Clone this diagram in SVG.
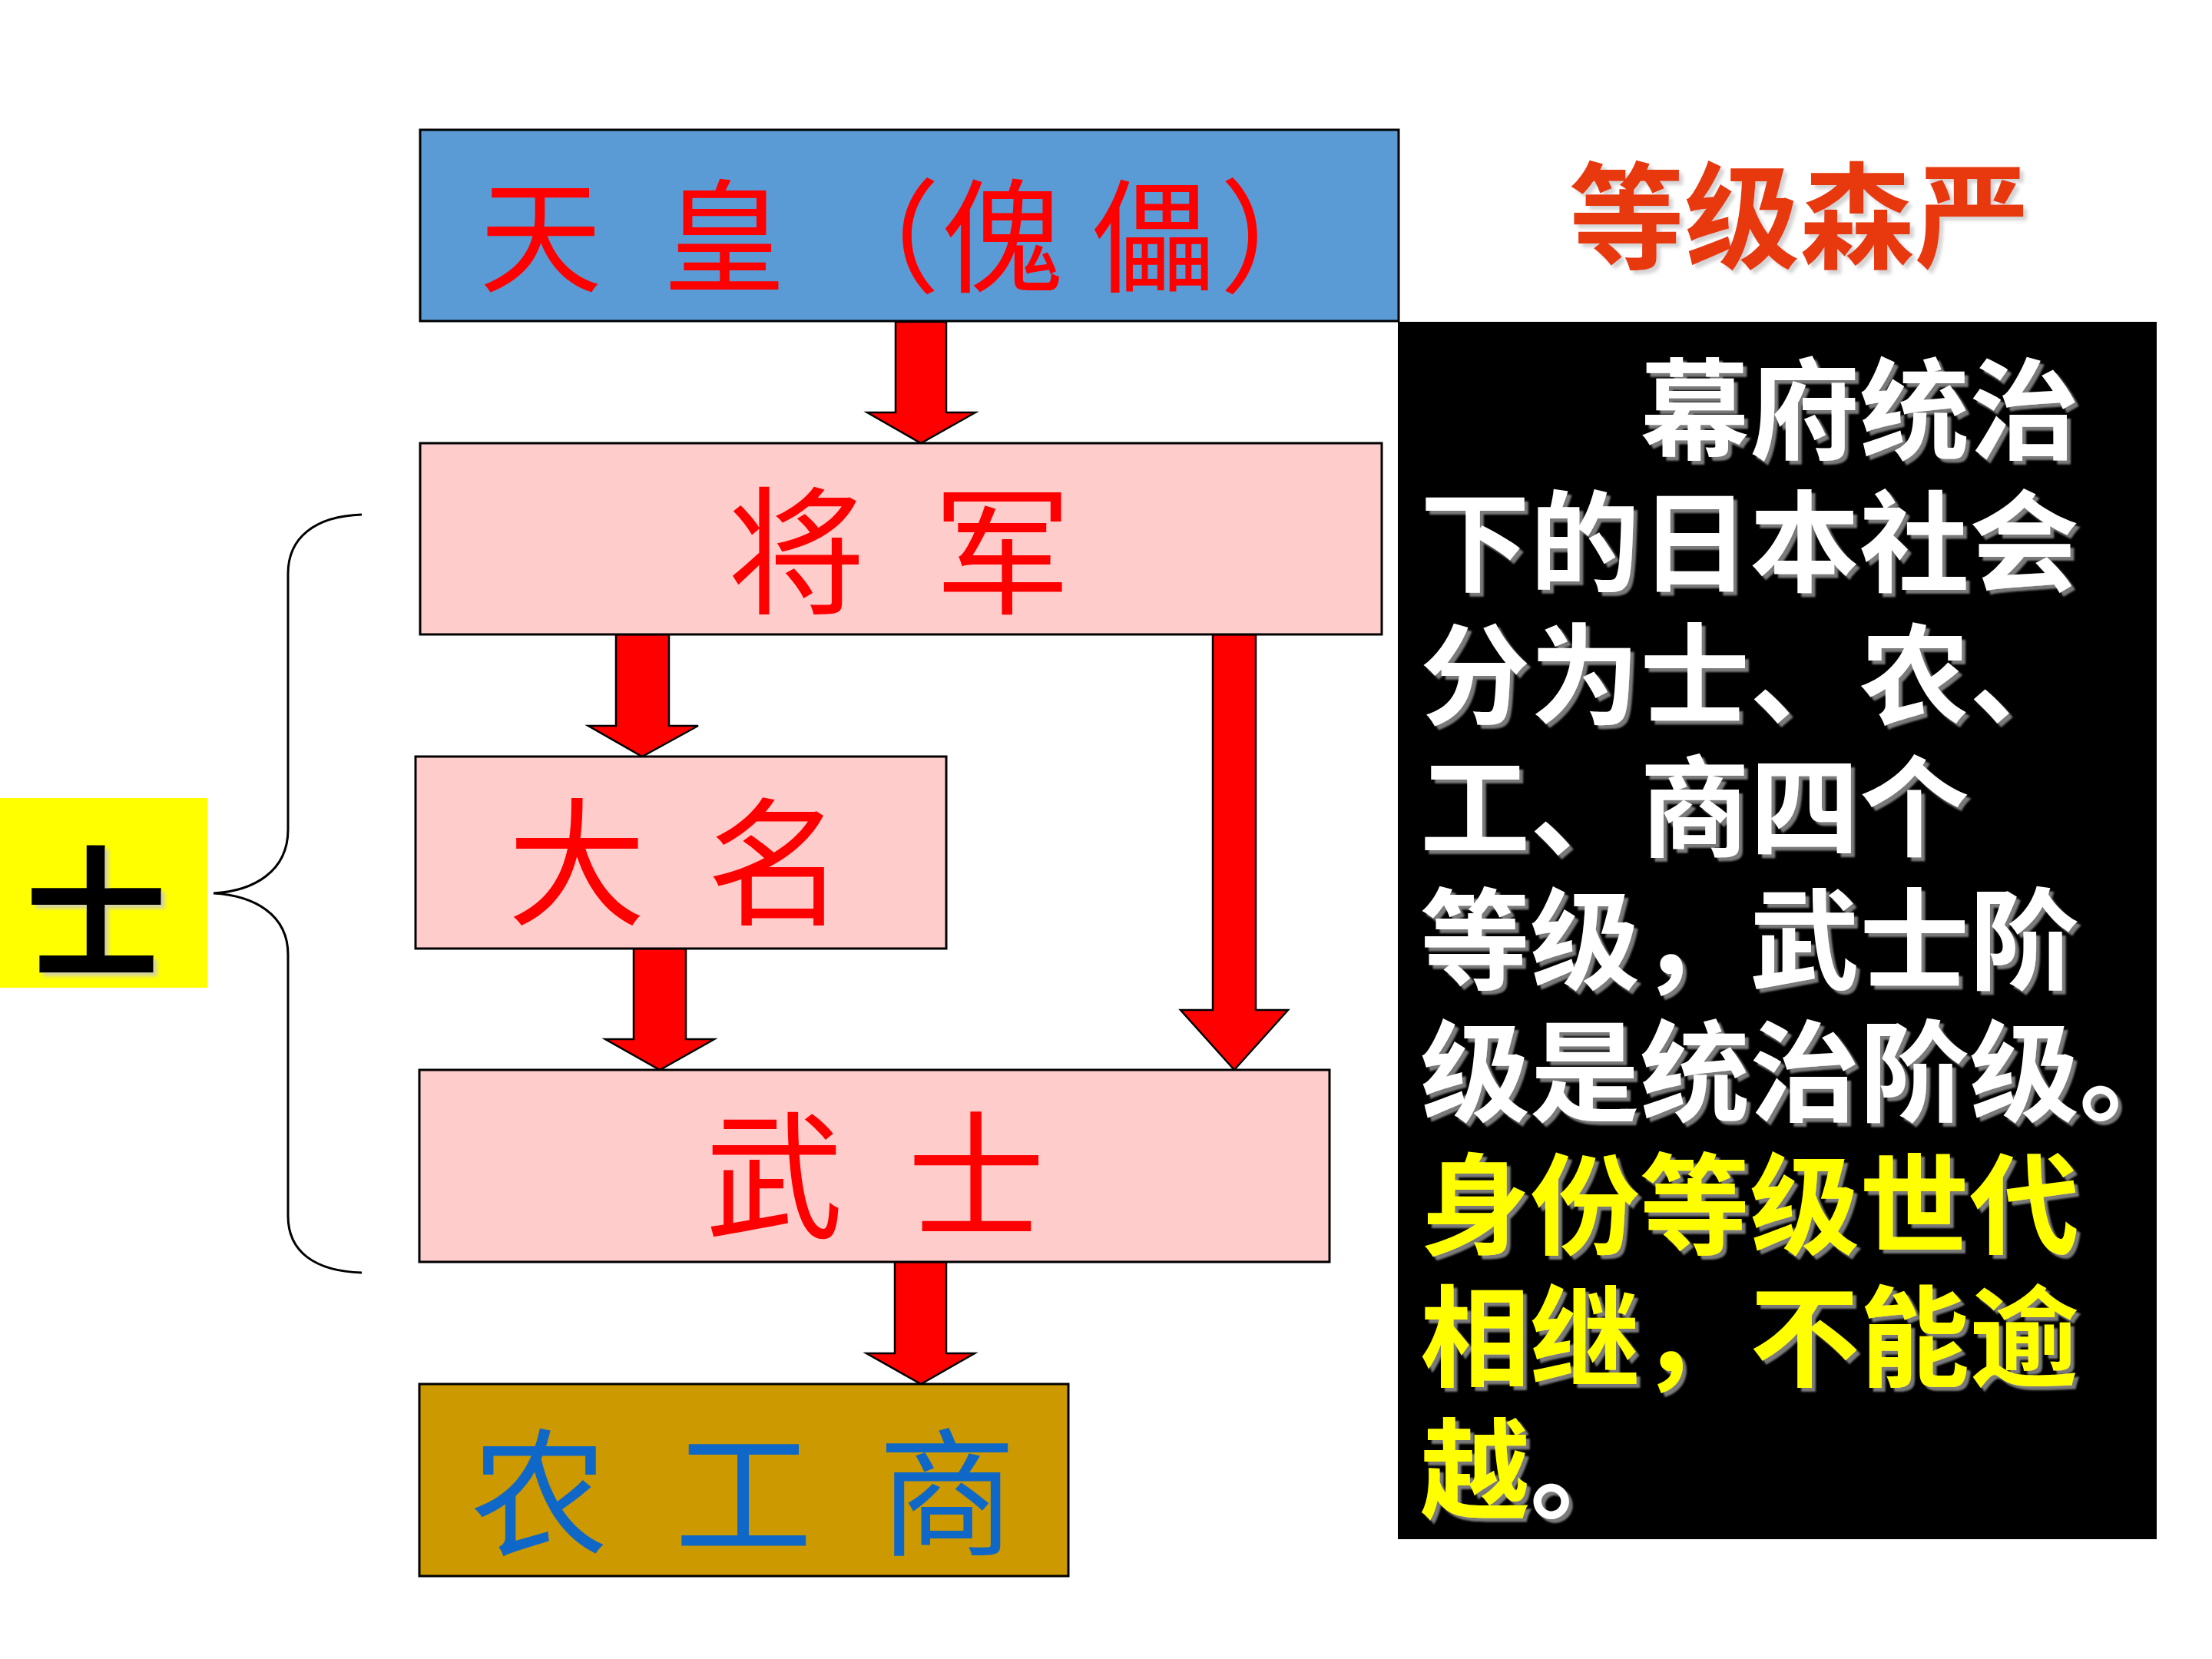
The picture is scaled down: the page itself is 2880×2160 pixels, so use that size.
<svg xmlns="http://www.w3.org/2000/svg" width="2880" height="2160" viewBox="0 0 2880 2160">
  <style>
    .box { stroke: #000; stroke-width: 3; }
    .arrow { fill: #FF0000; stroke: #000; stroke-width: 2.5; stroke-linejoin: miter; }
    .lbl { font-family: "Noto Sans CJK SC", "Noto Sans", sans-serif; font-weight: 400; text-anchor: middle; dominant-baseline: central; }
    .bold { font-weight: 700; }
    .red { fill: #FF0000; }
    .blue { fill: #0F68C8; }
    .para { font-family: "Noto Sans CJK SC", "Noto Sans", sans-serif; font-weight: 700; font-size: 143px; dominant-baseline: central; filter: url(#sh); }
    .w { fill: #FFFFFF; }
    .y { fill: #FFFF00; }
  </style>
  <defs>
    <filter id="sh" x="-10%" y="-10%" width="130%" height="140%">
      <feDropShadow dx="5" dy="5" stdDeviation="0.8" flood-color="#7A7A7A" flood-opacity="1"/>
    </filter>
    <filter id="shl" x="-10%" y="-10%" width="130%" height="140%">
      <feDropShadow dx="5" dy="5" stdDeviation="2" flood-color="#C8C8C8" flood-opacity="0.8"/>
    </filter>
  </defs>
  <rect width="2880" height="2160" fill="#FFFFFF"/>

  <g id="connectors">
    <polygon class="arrow" points="1166,419 1232,419 1232,537 1270,537 1199,577 1129,537 1166,537"/>
    <polygon class="arrow" points="802,826 871,826 871,945 909,945 836,985 766,945 802,945"/>
    <polygon class="arrow" points="825,1235 893,1235 893,1353 930,1353 859,1393 788,1353 825,1353"/>
    <polygon class="arrow" points="1579,826 1635,826 1635,1315 1677,1315 1607,1393 1537,1315 1579,1315"/>
    <polygon class="arrow" points="1165,1643 1232,1643 1232,1762 1269,1762 1199,1802 1128,1762 1165,1762"/>
    <path id="brace" d="M471,670 C410,672 375,700 375,747 L375,1080 C375,1135 330,1160 278,1163 C330,1166 375,1190 375,1243 L375,1583 C375,1630 410,1655 471,1657" fill="none" stroke="#000" stroke-width="3"/>
  </g>

  <g id="tenno">
    <rect class="box" x="547" y="169" width="1274" height="249" fill="#5B9BD5"/>
    <text class="lbl red" font-size="160" x="704 943 1144 1305 1502 1668" y="298">天皇（傀儡）</text>
  </g>

  <g id="shogun">
    <rect class="box" x="547" y="577" width="1252" height="249" fill="#FFCCCC"/>
    <text class="lbl red" font-size="180" x="1037 1305" y="706">将军</text>
  </g>

  <g id="daimyo">
    <rect class="box" x="541" y="985" width="691" height="250" fill="#FFCCCC"/>
    <text class="lbl red" font-size="180" x="751 1010" y="1111">大名</text>
  </g>

  <g id="bushi">
    <rect class="box" x="546" y="1393" width="1185" height="250" fill="#FFCCCC"/>
    <text class="lbl red" font-size="180" x="1008 1271" y="1519">武士</text>
  </g>

  <g id="nokosho">
    <rect class="box" x="546" y="1802" width="845" height="250" fill="#CC9900"/>
    <text class="lbl blue" font-size="180" x="702 968 1233" y="1932">农工商</text>
  </g>

  <g id="shi">
    <rect x="0" y="1039" width="270" height="247" fill="#FFFF00"/>
    <text class="lbl bold" font-size="185" fill="#000" x="125" y="1177" filter="url(#shl)">士</text>
  </g>

  <g id="title">
    <text class="lbl bold" font-size="150" fill="#E8380D" x="2343" y="272" filter="url(#shl)">等级森严</text>
  </g>

  <g id="description">
    <rect x="1820" y="419" width="988" height="1585" fill="#000000"/>
    <text class="para w" x="2135" y="524">幕府统治</text>
    <text class="para w" x="1849" y="696">下的日本社会</text>
    <text class="para w" x="1849" y="869">分为士、农、</text>
    <text class="para w" x="1849" y="1041">工、商四个</text>
    <text class="para w" x="1849" y="1214">等级，武士阶</text>
    <text class="para w" x="1849" y="1386">级是统治阶级。</text>
    <text class="para y" x="1849" y="1559">身份等级世代</text>
    <text class="para y" x="1849" y="1731">相继，不能逾</text>
    <text class="para" x="1849" y="1904"><tspan class="y">越</tspan><tspan class="w">。</tspan></text>
  </g>
</svg>
